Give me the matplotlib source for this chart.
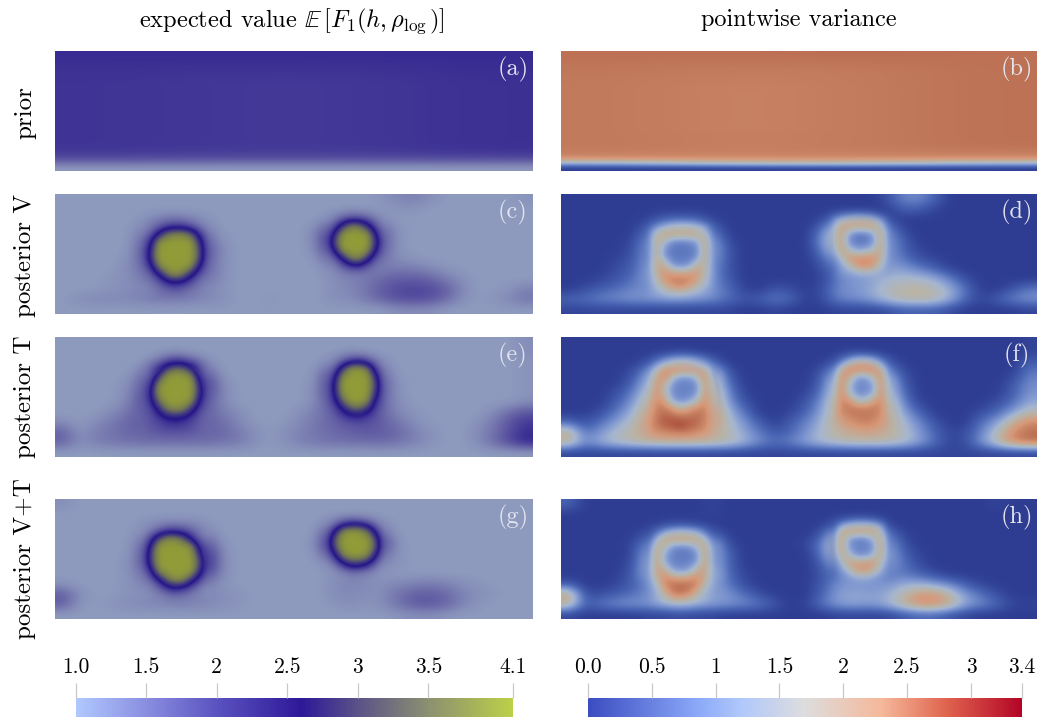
import numpy as np
import matplotlib
matplotlib.use("Agg")
import matplotlib.pyplot as plt
from matplotlib.colors import LinearSegmentedColormap, Normalize
from matplotlib.cm import ScalarMappable

plt.rcParams['font.family'] = ['cmr10', 'DejaVu Serif']
plt.rcParams['mathtext.fontset'] = 'cm'
plt.rcParams['axes.formatter.use_mathtext'] = True

# values, rows top to bottom
mean_prior = [
    [2.32, 2.32, 2.32, 2.32], [2.3, 2.3, 2.3, 2.32], [2.28, 2.27, 2.27, 2.3], [2.27, 2.25, 2.25, 2.3],
    [2.25, 2.23, 2.23, 2.28], [2.25, 2.22, 2.22, 2.28], [2.24, 2.2, 2.2, 2.27], [2.24, 2.2, 2.2, 2.27],
    [2.24, 2.2, 2.2, 2.27], [2.24, 2.2, 2.2, 2.27], [2.24, 2.2, 2.2, 2.27], [2.24, 2.2, 2.2, 2.27],
    [2.24, 2.2, 2.2, 2.27], [2.24, 2.2, 2.2, 2.27], [2.24, 2.2, 2.2, 2.27], [2.24, 2.2, 2.2, 2.27],
    [2.24, 2.2, 2.2, 2.27], [2.24, 2.2, 2.2, 2.27], [2.24, 2.2, 2.2, 2.27], [2.22, 2.18, 2.18, 2.25],
    [2.15, 2.12, 2.12, 2.18], [2.0, 1.98, 1.98, 2.02], [1.7, 1.68, 1.68, 1.7], [1.42, 1.42, 1.42, 1.42],
]
var_prior = [
    [2.85, 2.85, 2.9, 2.85], [2.85, 2.82, 2.85, 2.85], [2.82, 2.8, 2.82, 2.85], [2.8, 2.75, 2.78, 2.85],
    [2.8, 2.72, 2.75, 2.85], [2.78, 2.7, 2.75, 2.85], [2.78, 2.68, 2.75, 2.85], [2.78, 2.65, 2.75, 2.85],
    [2.78, 2.65, 2.75, 2.85], [2.78, 2.65, 2.75, 2.85], [2.78, 2.65, 2.75, 2.85], [2.78, 2.65, 2.75, 2.85],
    [2.78, 2.65, 2.75, 2.85], [2.78, 2.65, 2.75, 2.85], [2.78, 2.65, 2.75, 2.85], [2.78, 2.65, 2.75, 2.85],
    [2.78, 2.68, 2.75, 2.85], [2.78, 2.68, 2.75, 2.85], [2.78, 2.68, 2.75, 2.85], [2.75, 2.68, 2.72, 2.8],
    [2.7, 2.65, 2.68, 2.72], [2.45, 2.5, 2.5, 2.45], [1.2, 1.6, 1.6, 1.3], [0.0, 0.0, 0.0, 0.0],
]

mean_v = [
    [1.4,1.4,1.4,1.4,1.4,1.4,1.4,1.4,1.4,1.4, 1.4,1.4,1.4,1.4,1.4,1.4,1.4,1.4,1.4,1.4, 1.45,1.55,1.6,1.5,1.4,1.4,1.4,1.4,1.4,1.45],
    [1.4,1.4,1.4,1.4,1.4,1.4,1.4,1.4,1.4,1.4, 1.4,1.4,1.4,1.4,1.4,1.4,1.4,1.4,1.4,1.4, 1.4,1.45,1.45,1.4,1.4,1.4,1.4,1.4,1.4,1.4],
    [1.4,1.4,1.4,1.4,1.4,1.45,1.6,1.7,1.6,1.45, 1.4,1.4,1.4,1.4,1.4,1.4,1.4,1.6,2.1,1.9, 1.5,1.4,1.4,1.4,1.4,1.4,1.4,1.4,1.4,1.4],
    [1.4,1.4,1.4,1.4,1.4,1.55,2.1,2.6,2.2,1.6, 1.4,1.4,1.4,1.4,1.4,1.4,1.55,2.3,3.8,3.4, 1.8,1.45,1.4,1.4,1.4,1.4,1.4,1.4,1.4,1.4],
    [1.4,1.4,1.4,1.4,1.4,1.7,3.2,4.0,3.9,1.8, 1.45,1.4,1.4,1.4,1.4,1.4,1.6,2.9,4.1,4.0, 2.0,1.45,1.4,1.4,1.4,1.4,1.4,1.4,1.4,1.4],
    [1.4,1.4,1.4,1.4,1.4,1.8,3.9,4.1,4.0,2.0, 1.5,1.4,1.4,1.4,1.4,1.4,1.55,2.6,4.1,3.9, 1.9,1.45,1.4,1.4,1.4,1.4,1.4,1.4,1.4,1.4],
    [1.4,1.4,1.4,1.4,1.45,1.8,3.9,4.1,4.0,1.9, 1.5,1.4,1.4,1.4,1.4,1.4,1.45,2.0,3.2,2.9, 1.7,1.5,1.45,1.4,1.4,1.4,1.4,1.4,1.4,1.4],
    [1.4,1.4,1.4,1.4,1.5,1.7,3.2,4.0,3.6,1.8, 1.5,1.4,1.4,1.4,1.4,1.4,1.4,1.6,1.9,1.85, 1.65,1.65,1.65,1.55,1.45,1.4,1.4,1.4,1.4,1.4],
    [1.4,1.4,1.4,1.45,1.5,1.6,2.3,2.9,2.4,1.7, 1.5,1.4,1.4,1.4,1.4,1.4,1.4,1.5,1.55,1.65, 1.8,1.9,1.9,1.85,1.65,1.5,1.4,1.4,1.4,1.4],
    [1.4,1.4,1.4,1.45,1.5,1.55,1.8,2.0,1.8,1.55, 1.45,1.4,1.4,1.4,1.4,1.4,1.4,1.5,1.55,1.7, 1.9,2.05,2.1,2.05,1.9,1.55,1.4,1.4,1.45,1.6],
    [1.4,1.5,1.55,1.55,1.55,1.6,1.65,1.65,1.6,1.55, 1.5,1.4,1.4,1.45,1.4,1.4,1.4,1.5,1.5,1.65, 1.85,2.0,2.05,2.0,1.8,1.5,1.4,1.45,1.55,1.7],
    [1.4,1.4,1.4,1.4,1.4,1.4,1.4,1.4,1.4,1.4, 1.4,1.4,1.4,1.4,1.4,1.4,1.4,1.4,1.4,1.4, 1.4,1.5,1.5,1.5,1.4,1.4,1.4,1.4,1.4,1.4],
]
var_v = [
    [0,0,0,0,0,0,0,0,0,0, 0,0,0,0,0,0,0,0,0,0, .2,.8,.9,.5,0,0,0,0,0,0],
    [0,0,0,0,0,0,0,0,0,0, 0,0,0,0,0,0,0,0,0,0, 0,.4,.4,.1,0,0,0,0,0,0],
    [0,0,0,0,0,.1,.4,.5,.45,.1, 0,0,0,0,0,0,.1,.9,1.2,1.0, .2,0,0,0,0,0,0,0,0,0],
    [0,0,0,0,0,.5,1.6,2.2,1.9,.7, 0,0,0,0,0,0,.6,2.2,2.3,2.2, 1.1,.1,0,0,0,0,0,0,0,0],
    [0,0,0,0,.1,.9,2.1,1.2,1.4,1.3, .1,0,0,0,0,0,1.0,2.3,.8,1.2, 1.3,.4,0,0,0,0,0,0,0,0],
    [0,0,0,0,.2,1.1,1.5,.7,.8,1.5, .3,0,0,0,0,0,.8,2.2,1.0,1.5, 1.3,.5,.1,0,0,0,0,0,0,0],
    [0,0,0,.1,.3,1.1,1.6,.8,.9,1.3, .3,0,0,0,0,0,.4,1.6,2.3,2.4, 1.1,.7,.3,.1,0,0,0,0,0,0],
    [0,0,0,.2,.4,1.2,2.3,1.6,2.0,1.1, .3,0,0,0,0,0,.2,1.0,1.5,1.4, 1.2,1.1,.8,.5,.1,0,0,0,0,0],
    [0,0,.1,.3,.6,1.1,2.4,2.7,2.3,1.0, .4,0,0,0,0,0,.1,.8,1.0,1.1, 1.4,1.5,1.5,1.3,.8,.2,0,0,0,0],
    [0,.2,.4,.6,.8,1.0,1.6,2.0,1.5,1.0, .6,.1,0,.3,.2,0,.2,.9,1.0,1.2, 1.6,1.8,1.9,1.7,1.3,.6,0,0,.3,.7],
    [.5,.6,.8,.9,1.0,1.0,1.1,1.1,1.0,.9, .6,.3,.4,.7,.5,0,.2,.8,.9,1.1, 1.5,1.8,1.9,1.8,1.3,.5,.1,.4,.8,1.0],
    [.1,.1,.1,.1,.1,.1,.1,.1,.1,.1, .1,0,0,.1,0,0,0,.1,.1,.1, .2,.4,.4,.4,.2,0,0,0,0,.1],
]

mean_t = [
    [1.4,1.4,1.4,1.4,1.4,1.4,1.4,1.4,1.4,1.4, 1.4,1.4,1.4,1.4,1.4,1.4,1.4,1.4,1.4,1.4, 1.4,1.4,1.4,1.4,1.4,1.4,1.4,1.4,1.4,1.5],
    [1.4,1.4,1.4,1.4,1.4,1.4,1.4,1.45,1.4,1.4, 1.4,1.4,1.4,1.4,1.4,1.4,1.4,1.4,1.45,1.4, 1.4,1.4,1.4,1.4,1.4,1.4,1.4,1.4,1.4,1.5],
    [1.4,1.4,1.4,1.4,1.4,1.4,1.7,2.4,2.0,1.5, 1.4,1.4,1.4,1.4,1.4,1.4,1.4,1.55,2.3,2.2, 1.5,1.4,1.4,1.4,1.4,1.4,1.4,1.4,1.4,1.45],
    [1.4,1.4,1.4,1.4,1.4,1.6,3.0,4.0,3.8,1.8, 1.4,1.4,1.4,1.4,1.4,1.4,1.45,2.3,4.0,3.7, 1.7,1.4,1.4,1.4,1.4,1.4,1.4,1.4,1.4,1.45],
    [1.4,1.4,1.4,1.4,1.45,1.8,3.9,4.1,4.1,2.2, 1.5,1.4,1.4,1.4,1.4,1.4,1.5,2.6,4.1,4.0, 1.9,1.45,1.4,1.4,1.4,1.4,1.4,1.4,1.4,1.45],
    [1.4,1.4,1.4,1.4,1.5,1.9,3.9,4.1,4.0,2.1, 1.55,1.4,1.4,1.4,1.4,1.4,1.55,2.5,4.1,4.0, 1.9,1.45,1.4,1.4,1.4,1.4,1.4,1.4,1.4,1.45],
    [1.4,1.4,1.4,1.4,1.55,2.0,3.2,4.0,3.7,1.95, 1.55,1.4,1.4,1.4,1.4,1.4,1.55,2.2,3.8,3.4, 1.8,1.5,1.4,1.4,1.4,1.4,1.4,1.4,1.4,1.5],
    [1.4,1.4,1.4,1.5,1.7,1.9,2.5,2.9,2.5,1.85, 1.65,1.5,1.4,1.4,1.4,1.5,1.65,1.9,2.6,2.4, 1.8,1.55,1.45,1.4,1.4,1.4,1.4,1.5,1.75,1.95],
    [1.5,1.4,1.5,1.65,1.8,1.9,2.1,2.2,2.05,1.85, 1.75,1.55,1.42,1.4,1.42,1.55,1.7,1.8,2.0,2.0, 1.85,1.7,1.5,1.42,1.4,1.4,1.45,1.65,1.95,2.2],
    [1.85,1.45,1.6,1.7,1.8,1.85,1.9,1.95,1.9,1.85, 1.8,1.65,1.5,1.4,1.5,1.6,1.7,1.8,1.85,1.95, 1.9,1.8,1.6,1.48,1.4,1.4,1.5,1.7,2.0,2.3],
    [1.85,1.5,1.6,1.68,1.72,1.75,1.75,1.75,1.75,1.75, 1.72,1.65,1.5,1.4,1.5,1.6,1.68,1.72,1.75,1.75, 1.78,1.72,1.6,1.48,1.4,1.4,1.5,1.75,2.05,2.35],
    [1.4,1.4,1.4,1.4,1.4,1.4,1.4,1.4,1.4,1.4, 1.4,1.4,1.4,1.4,1.4,1.4,1.4,1.4,1.4,1.4, 1.4,1.4,1.4,1.4,1.4,1.4,1.4,1.4,1.4,1.4],
]
var_t = [
    [0,0,0,0,0,0,0,0,0,0, 0,0,0,0,0,0,0,0,0,0, 0,0,0,0,0,0,0,0,0,.1],
    [0,0,0,0,0,0,0,.1,0,0, 0,0,0,0,0,0,0,0,.1,0, 0,0,0,0,0,0,0,0,0,.1],
    [0,0,0,0,0,.2,1.2,1.9,1.6,.5, 0,0,0,0,0,0,0,.5,1.8,1.8, .5,0,0,0,0,0,0,0,0,.4],
    [0,0,0,0,.2,1.0,2.6,1.8,1.6,2.0, .3,0,0,0,0,0,.3,1.6,1.5,1.3, 1.3,.2,0,0,0,0,0,0,0,.7],
    [0,0,0,0,.4,1.4,2.3,.9,.85,2.3, .6,0,0,0,0,0,.5,2.2,.9,.9, 2.0,.4,0,0,0,0,0,0,.3,.9],
    [0,0,0,.2,.7,1.7,2.3,.85,.95,2.4, .9,.1,0,0,0,.1,.7,2.3,.9,1.0, 2.0,.6,0,0,0,0,0,0,.4,1.0],
    [0,0,0,.4,1.0,2.0,2.6,1.6,1.7,2.5, 1.1,.3,0,0,0,.3,1.0,2.4,1.8,1.7, 2.3,.9,.1,0,0,0,0,.2,.6,1.2],
    [0,0,.2,.7,1.3,2.3,2.8,2.8,2.8,2.7, 1.4,.7,0,0,.1,.5,1.2,2.2,2.7,2.7, 2.3,1.2,.5,0,0,0,.2,.5,1.1,1.7],
    [.5,.2,.6,1.1,1.6,2.4,2.9,3.1,2.9,2.6, 1.6,1.0,.4,0,.4,.8,1.4,2.1,2.6,2.7, 2.2,1.5,.9,.3,0,0,.6,1.1,2.0,2.6],
    [2.0,.6,1.0,1.5,1.8,2.2,2.4,2.5,2.4,2.1, 1.7,1.2,.7,.3,.5,1.0,1.5,1.9,2.1,2.2, 2.0,1.6,1.1,.5,.1,.2,.8,1.6,2.6,2.9],
    [2.0,.9,1.3,1.6,1.8,1.9,2.0,2.0,2.0,1.9, 1.8,1.4,.9,.6,.8,1.2,1.5,1.7,1.8,1.8, 1.8,1.6,1.2,.6,.1,.2,1.0,1.8,2.6,2.9],
    [.1,.1,.1,.1,.1,.1,.1,.1,.1,.1, .1,.1,.1,.1,.1,.1,.1,.1,.1,.1, .1,.1,.1,.1,.1,.1,.1,.1,.1,.1],
]

mean_vt = [
    [1.5,1.4,1.4,1.4,1.4,1.4,1.4,1.4,1.4,1.4, 1.4,1.4,1.4,1.4,1.4,1.4,1.4,1.4,1.4,1.4, 1.4,1.4,1.4,1.4,1.4,1.4,1.4,1.4,1.4,1.4],
    [1.4,1.4,1.4,1.4,1.4,1.4,1.4,1.4,1.4,1.4, 1.4,1.4,1.4,1.4,1.4,1.4,1.4,1.4,1.4,1.4, 1.4,1.4,1.4,1.4,1.4,1.4,1.4,1.4,1.4,1.4],
    [1.4,1.4,1.4,1.4,1.4,1.45,1.55,1.6,1.55,1.45, 1.4,1.4,1.4,1.4,1.4,1.4,1.4,1.7,2.3,2.0, 1.5,1.4,1.4,1.4,1.4,1.4,1.4,1.4,1.4,1.4],
    [1.4,1.4,1.4,1.4,1.4,1.5,2.1,2.7,2.3,1.6, 1.4,1.4,1.4,1.4,1.4,1.4,1.45,2.5,4.0,3.8, 1.8,1.4,1.4,1.4,1.4,1.4,1.4,1.4,1.4,1.4],
    [1.4,1.4,1.4,1.4,1.4,1.7,3.4,4.1,3.9,2.0, 1.45,1.4,1.4,1.4,1.4,1.4,1.5,3.0,4.1,4.0, 2.2,1.45,1.4,1.4,1.4,1.4,1.4,1.4,1.4,1.4],
    [1.4,1.4,1.4,1.4,1.4,1.8,3.9,4.1,4.1,2.4, 1.5,1.4,1.4,1.4,1.4,1.4,1.45,2.3,3.8,3.4, 1.8,1.45,1.4,1.4,1.4,1.4,1.4,1.4,1.4,1.4],
    [1.4,1.4,1.4,1.4,1.45,1.8,3.9,4.1,4.1,2.5, 1.5,1.4,1.4,1.4,1.4,1.4,1.4,1.6,2.2,2.0, 1.55,1.45,1.4,1.4,1.4,1.4,1.4,1.4,1.4,1.4],
    [1.4,1.4,1.4,1.4,1.45,1.65,3.0,4.0,3.8,2.1, 1.5,1.4,1.4,1.4,1.4,1.4,1.4,1.45,1.6,1.55, 1.45,1.4,1.4,1.4,1.4,1.4,1.4,1.4,1.4,1.4],
    [1.45,1.4,1.4,1.4,1.45,1.55,2.0,2.7,2.2,1.6, 1.45,1.4,1.4,1.4,1.4,1.4,1.4,1.5,1.55,1.5, 1.5,1.55,1.6,1.65,1.6,1.5,1.45,1.4,1.4,1.4],
    [1.9,1.5,1.4,1.4,1.45,1.5,1.6,1.75,1.65,1.55, 1.5,1.45,1.4,1.4,1.4,1.4,1.4,1.5,1.55,1.5, 1.5,1.7,1.85,1.9,1.8,1.6,1.5,1.45,1.4,1.4],
    [1.9,1.45,1.4,1.45,1.5,1.55,1.55,1.6,1.6,1.55, 1.5,1.45,1.4,1.4,1.4,1.4,1.4,1.45,1.5,1.45, 1.5,1.7,1.9,1.95,1.85,1.6,1.45,1.4,1.4,1.4],
    [1.4,1.4,1.4,1.4,1.4,1.4,1.4,1.4,1.4,1.4, 1.4,1.4,1.4,1.4,1.4,1.4,1.4,1.4,1.4,1.4, 1.4,1.45,1.5,1.5,1.45,1.4,1.4,1.4,1.4,1.4],
]
var_vt = [
    [.5,0,0,0,0,0,0,0,0,.1, 0,0,0,0,0,0,0,0,0,0, 0,0,0,0,0,0,0,.1,0,0],
    [0,0,0,0,0,0,0,0,0,.1, 0,0,0,0,0,0,0,0,0,0, 0,0,0,0,0,0,0,0,0,0],
    [0,0,0,0,0,0,.1,.2,.1,0, 0,0,0,0,0,0,0,.5,1.1,1.0, .1,0,0,0,0,0,0,0,0,0],
    [0,0,0,0,0,.3,1.3,1.9,1.6,.6, 0,0,0,0,0,0,.3,2.1,1.9,2.2, .9,.1,0,0,0,0,0,0,0,0],
    [0,0,0,0,.1,.9,2.0,1.1,1.3,1.7, .2,0,0,0,0,.1,.8,2.4,.8,1.0, 1.4,.3,0,0,0,0,0,0,0,0],
    [0,0,0,0,.1,1.4,1.4,.7,.8,1.5, .5,0,0,0,0,0,.7,2.3,1.0,1.5, 1.5,.5,.1,0,0,0,0,0,0,0],
    [0,0,0,0,.2,1.5,1.6,.8,.9,1.6, .5,0,0,0,0,0,.4,1.7,2.4,2.4, 1.2,.7,.2,0,0,0,0,0,0,0],
    [0,0,0,0,.4,1.3,2.3,1.5,1.8,1.7, .6,.1,0,0,0,0,.3,.9,1.3,1.2, .8,.7,.5,.2,0,0,0,0,0,0],
    [.3,0,0,.1,.4,.9,2.6,2.9,2.6,1.3, .7,.2,0,0,0,0,.4,1.0,1.0,1.0, 1.0,1.2,1.3,1.1,.8,.4,.1,0,0,0],
    [2.2,.2,.2,.4,.6,.9,2.0,2.8,2.0,1.2, 1.0,.6,.2,0,0,0,.5,1.1,1.2,1.1, 1.2,1.7,2.3,2.4,1.8,1.0,.6,.2,0,0],
    [2.0,.4,.7,.9,1.0,1.0,1.3,1.5,1.3,1.1, 1.0,.9,.7,.3,0,.1,.7,1.1,1.2,1.1, 1.3,1.9,2.5,2.6,2.1,1.2,.9,.5,.1,.1],
    [.1,0,0,0,0,.1,.1,.2,.1,.1, 0,0,0,0,0,0,0,.1,.1,.1, .1,.3,.5,.5,.3,.1,0,0,0,0],
]

# finer readings around the two inclusions of each posterior panel
mean_v_blob1 = [
    [1.4,1.4,1.45,1.5,1.55,1.55,1.55,1.5,1.45,1.4,1.4],
    [1.4,1.45,1.6,1.8,2.1,2.2,2.2,2.0,1.7,1.5,1.4],
    [1.45,1.55,1.9,2.6,3.5,3.8,3.8,3.3,2.3,1.7,1.45],
    [1.45,1.7,2.4,3.9,4.1,4.1,4.1,4.1,2.9,1.8,1.45],
    [1.5,1.75,2.7,4.1,4.1,4.1,4.1,4.1,3.2,1.85,1.5],
    [1.5,1.75,2.8,4.1,4.1,4.1,4.1,4.1,3.2,1.85,1.5],
    [1.5,1.7,2.3,3.7,4.1,4.1,4.1,3.9,2.6,1.75,1.5],
    [1.5,1.6,1.9,2.5,3.5,4.0,3.6,2.7,2.0,1.65,1.5],
    [1.5,1.55,1.7,1.9,2.3,2.5,2.35,2.0,1.75,1.55,1.5],
    [1.45,1.5,1.55,1.65,1.8,1.9,1.8,1.65,1.6,1.5,1.45],
    [1.45,1.5,1.5,1.55,1.55,1.6,1.6,1.55,1.5,1.5,1.45],
]
mean_v_blob2 = [
    [1.4,1.4,1.4,1.45,1.5,1.5,1.45,1.4,1.4,1.4],
    [1.4,1.45,1.55,1.8,2.0,2.0,1.85,1.6,1.45,1.4],
    [1.45,1.6,2.0,2.9,3.7,3.6,2.8,2.0,1.55,1.4],
    [1.5,1.75,2.7,4.0,4.1,4.1,4.0,2.6,1.7,1.45],
    [1.55,1.8,3.2,4.1,4.1,4.1,4.1,3.0,1.8,1.45],
    [1.5,1.7,2.6,4.0,4.1,4.1,4.0,2.6,1.75,1.5],
    [1.45,1.55,1.9,2.6,3.7,3.8,2.9,2.0,1.65,1.5],
    [1.4,1.5,1.6,1.9,2.2,2.3,1.95,1.7,1.6,1.55],
    [1.4,1.45,1.5,1.55,1.65,1.65,1.65,1.65,1.65,1.7],
    [1.4,1.45,1.45,1.5,1.55,1.55,1.6,1.7,1.8,1.9],
]
mean_t_blob1 = [
    [1.4,1.4,1.45,1.55,1.8,2.05,1.95,1.65,1.45,1.4,1.4],
    [1.45,1.5,1.6,2.0,3.0,3.7,3.5,2.6,1.75,1.5,1.4],
    [1.45,1.55,1.9,3.0,4.1,4.1,4.1,4.0,2.3,1.65,1.45],
    [1.5,1.6,2.3,3.9,4.1,4.1,4.1,4.1,2.8,1.75,1.5],
    [1.55,1.7,2.5,4.0,4.1,4.1,4.1,4.1,2.9,1.8,1.5],
    [1.6,1.75,2.3,3.5,4.1,4.1,4.1,3.9,2.5,1.8,1.55],
    [1.65,1.8,2.05,2.7,3.6,3.9,3.7,2.9,2.1,1.8,1.6],
    [1.7,1.85,2.0,2.2,2.5,2.6,2.5,2.2,1.95,1.8,1.65],
    [1.75,1.85,1.95,2.05,2.15,2.2,2.15,2.05,1.9,1.8,1.7],
    [1.75,1.8,1.9,1.95,2.0,2.0,2.0,1.95,1.85,1.8,1.7],
    [1.65,1.7,1.75,1.75,1.8,1.8,1.8,1.75,1.75,1.7,1.65],
]
mean_t_blob2 = [
    [1.4,1.4,1.4,1.4,1.45,1.5,1.45,1.4,1.4,1.4],
    [1.4,1.45,1.5,1.8,2.3,2.5,2.1,1.7,1.45,1.4],
    [1.45,1.55,1.9,3.0,4.0,4.1,3.7,2.2,1.6,1.4],
    [1.5,1.65,2.4,3.9,4.1,4.1,4.1,2.9,1.7,1.45],
    [1.5,1.7,2.7,4.1,4.1,4.1,4.1,3.2,1.8,1.5],
    [1.55,1.75,2.6,4.0,4.1,4.1,4.1,2.9,1.85,1.55],
    [1.6,1.8,2.3,3.4,4.1,4.1,3.9,2.4,1.85,1.6],
    [1.6,1.8,2.0,2.5,3.2,3.4,2.8,2.1,1.85,1.65],
    [1.65,1.8,1.9,2.1,2.3,2.4,2.2,2.0,1.85,1.7],
    [1.7,1.8,1.85,1.95,2.05,2.1,2.05,2.0,1.9,1.75],
]
mean_vt_blob1 = [
    [1.4,1.4,1.4,1.45,1.5,1.5,1.45,1.4,1.4,1.4,1.4],
    [1.4,1.45,1.6,1.95,2.3,2.3,2.05,1.7,1.5,1.4,1.4],
    [1.45,1.55,2.2,3.2,3.9,3.9,3.4,2.5,1.8,1.5,1.4],
    [1.45,1.7,2.7,4.1,4.1,4.1,4.1,3.9,2.4,1.65,1.45],
    [1.5,1.75,3.0,4.1,4.1,4.1,4.1,4.1,2.9,1.75,1.45],
    [1.5,1.75,2.9,4.1,4.1,4.1,4.1,4.1,3.3,1.85,1.5],
    [1.45,1.65,2.3,3.8,4.1,4.1,4.1,4.1,2.9,1.8,1.5],
    [1.45,1.55,1.85,2.5,3.5,4.0,3.9,3.0,2.2,1.65,1.45],
    [1.45,1.5,1.6,1.85,2.3,2.6,2.4,2.0,1.7,1.5,1.45],
    [1.4,1.45,1.5,1.6,1.75,1.85,1.8,1.65,1.55,1.45,1.4],
    [1.4,1.45,1.5,1.5,1.55,1.6,1.6,1.55,1.5,1.5,1.45],
]
mean_vt_blob2 = [
    [1.4,1.4,1.4,1.4,1.4,1.4,1.4,1.4,1.4,1.4],
    [1.4,1.45,1.65,2.1,2.4,2.4,2.1,1.65,1.45,1.4],
    [1.45,1.7,2.5,3.8,4.1,4.0,3.5,2.4,1.6,1.4],
    [1.45,1.85,3.3,4.1,4.1,4.1,4.1,3.2,1.75,1.45],
    [1.45,1.85,3.2,4.1,4.1,4.1,4.1,3.4,1.8,1.45],
    [1.4,1.7,2.4,3.7,4.1,4.1,3.9,2.7,1.7,1.45],
    [1.4,1.5,1.8,2.4,3.0,3.0,2.6,1.95,1.55,1.4],
    [1.4,1.45,1.5,1.65,1.8,1.8,1.7,1.55,1.45,1.4],
    [1.4,1.45,1.5,1.5,1.55,1.55,1.5,1.5,1.45,1.4],
    [1.4,1.45,1.5,1.55,1.6,1.6,1.55,1.5,1.45,1.45],
]
var_v_blob1 = [
    [0,.1,.2,.3,.3,.3,.3,.3,.2,.1,0],
    [.1,.5,1.0,1.3,1.6,1.6,1.6,1.5,1.2,.4,.1],
    [.1,.8,1.9,2.2,2.2,2.2,2.2,2.1,1.7,.7,.1],
    [.2,.9,2.1,1.4,.8,.7,.8,1.1,2.2,1.0,.2],
    [.2,1.0,2.0,.9,.7,.7,.7,.8,2.1,1.1,.2],
    [.2,1.0,2.1,1.1,.7,.7,.7,1.0,2.1,1.1,.2],
    [.3,1.0,2.2,2.0,1.1,.9,1.1,2.0,1.9,1.1,.3],
    [.4,1.0,1.9,2.5,2.4,2.3,2.4,2.4,1.7,1.1,.4],
    [.5,1.0,1.6,2.3,2.7,2.8,2.6,2.1,1.5,1.1,.5],
    [.6,1.0,1.3,1.6,2.1,2.2,1.9,1.5,1.3,1.0,.6],
    [.8,1.0,1.1,1.2,1.3,1.3,1.3,1.2,1.1,1.0,.7],
]
var_v_blob2 = [
    [0,.1,.4,.6,.7,.7,.5,.2,0,0],
    [.1,.9,1.3,1.7,1.9,1.9,1.6,1.1,.4,0],
    [.3,1.2,2.2,2.2,2.2,2.2,2.3,1.6,.7,.1],
    [.6,1.3,2.3,1.1,.7,.7,1.1,2.2,.9,.2],
    [.5,1.3,2.3,.9,.7,.7,.9,2.2,1.0,.3],
    [.3,1.0,2.3,1.6,1.1,1.2,1.6,2.2,1.0,.4],
    [.2,.7,1.5,2.4,2.5,2.5,2.5,1.9,1.0,.6],
    [.1,.5,1.1,1.5,2.3,2.6,2.3,1.5,1.0,.8],
    [.1,.5,1.0,1.1,1.2,1.4,1.3,1.2,1.1,1.1],
    [.1,.5,.9,1.0,1.0,1.1,1.2,1.3,1.4,1.5],
]
var_t_blob1 = [
    [.1,.2,.6,1.2,1.7,2.0,1.9,1.5,.9,.3,.1],
    [.4,.9,1.6,2.5,2.7,2.7,2.7,2.6,2.1,.7,.2],
    [.7,1.2,2.2,2.6,1.5,1.0,1.0,1.5,2.6,1.2,.4],
    [.9,1.5,2.4,1.8,.9,.8,.8,.9,2.3,1.6,.5],
    [1.1,1.7,2.5,1.7,.9,.8,.8,1.0,2.4,1.7,.7],
    [1.2,1.9,2.6,2.2,1.2,.9,1.1,1.6,2.5,1.8,.9],
    [1.4,2.1,2.7,2.8,2.4,2.0,2.3,2.7,2.7,1.9,1.1],
    [1.6,2.3,2.8,3.0,3.0,2.9,2.9,2.9,2.7,2.0,1.3],
    [1.8,2.4,2.8,3.0,3.1,3.2,3.0,2.9,2.6,2.1,1.5],
    [1.9,2.3,2.6,2.7,2.8,2.9,2.8,2.6,2.4,2.1,1.6],
    [1.8,2.0,2.1,2.2,2.2,2.2,2.2,2.1,2.0,1.9,1.6],
]
var_t_blob2 = [
    [0,0,0,.1,.4,.5,.3,0,0,0],
    [0,.1,.7,1.5,2.0,2.1,1.8,1.0,.3,0],
    [.2,.7,1.9,2.6,2.7,2.7,2.6,2.0,.9,.2],
    [.4,1.0,2.4,2.2,1.1,1.0,1.7,2.5,1.2,.4],
    [.6,1.2,2.6,1.4,.9,.9,1.0,2.5,1.4,.5],
    [.7,1.4,2.6,1.6,.9,.9,1.2,2.5,1.5,.7],
    [.9,1.6,2.6,2.5,1.7,1.5,2.2,2.6,1.7,.9],
    [1.1,1.8,2.6,2.8,2.8,2.8,2.8,2.6,1.8,1.1],
    [1.3,1.9,2.5,2.7,2.8,2.8,2.8,2.5,1.9,1.2],
    [1.5,1.9,2.3,2.5,2.6,2.7,2.6,2.3,1.9,1.4],
]
var_vt_blob1 = [
    [0,0,0,.1,.1,.1,.1,.1,0,0,0],
    [0,.1,.5,1.1,1.5,1.6,1.5,1.2,.6,.1,0],
    [.1,.4,1.4,2.2,2.3,2.3,2.3,2.2,1.6,.6,.1],
    [.1,.7,2.1,1.7,.9,.8,.9,1.4,2.3,1.0,.2],
    [.2,.9,2.3,1.1,.8,.7,.7,.9,2.2,1.2,.2],
    [.3,1.0,2.3,1.2,.8,.8,.8,1.1,2.3,1.3,.3],
    [.4,1.0,2.3,2.1,1.2,1.0,1.2,2.0,2.3,1.2,.5],
    [.4,1.0,1.9,2.6,2.5,2.4,2.5,2.6,2.0,1.2,.6],
    [.5,.9,1.4,2.5,2.9,3.0,2.9,2.5,1.6,1.1,.7],
    [.6,.9,1.2,1.8,2.6,2.8,2.5,1.7,1.2,1.1,.8],
    [.8,.9,1.0,1.2,1.6,1.7,1.5,1.2,1.1,1.0,.9],
]
var_vt_blob2 = [
    [0,0,0,0,0,0,.1,.1,0,0],
    [0,.1,.8,1.3,1.5,1.5,1.4,1.0,.2,0],
    [.1,.4,2.0,2.3,2.3,2.3,2.3,1.6,.5,.1],
    [.1,.7,2.3,1.1,.8,.8,1.3,2.2,.7,.2],
    [.1,.8,2.3,1.0,.8,.8,.9,2.3,.8,.3],
    [.1,.6,2.1,1.6,.9,.9,1.3,2.2,.9,.4],
    [.1,.5,1.3,2.3,2.3,2.4,2.4,1.6,.8,.5],
    [.1,.4,1.0,1.4,2.2,2.3,1.9,1.3,.8,.6],
    [.2,.5,.8,1.0,1.2,1.3,1.1,.9,.8,.7],
    [.2,.7,.9,1.0,1.1,1.1,1.0,1.0,1.0,1.0],
]

row_labels = ["prior", "posterior V", "posterior T", "posterior V+T"]
panel_letters = ["(a)", "(b)", "(c)", "(d)", "(e)", "(f)", "(g)", "(h)"]
mean_ticks = [1.0, 1.5, 2, 2.5, 3, 3.5, 4.1]
mean_ticklabels = ["1.0", "1.5", "2", "2.5", "3", "3.5", "4.1"]
var_ticks = [0.0, 0.5, 1, 1.5, 2, 2.5, 3, 3.4]
var_ticklabels = ["0.0", "0.5", "1", "1.5", "2", "2.5", "3", "3.4"]

W, H = 1037, 717
def px_axes(fig, x0, y0, x1, y1):
    return fig.add_axes([x0 / W, 1 - y1 / H, (x1 - x0) / W, (y1 - y0) / H])

def make_cmap(vmin, vmax, stops):
    return LinearSegmentedColormap.from_list(
        "c", [((v - vmin) / (vmax - vmin), c) for v, c in stops], N=512)

def draw_patch(ax, table, x_first, y_first, cmap, vmin, vmax, step=8):
    # soft edge so the fine table blends into the coarse one
    arr = np.array(table, dtype=float)
    alpha = np.ones(arr.shape)
    alpha[1, 1:-1] = alpha[-2, 1:-1] = 0.6
    alpha[1:-1, 1] = alpha[1:-1, -2] = 0.6
    alpha[0, :] = alpha[-1, :] = 0
    alpha[:, 0] = alpha[:, -1] = 0
    x_last = x_first + step * (arr.shape[1] - 1)
    y_last = y_first + step * (arr.shape[0] - 1)
    ax.imshow(arr, cmap=cmap, vmin=vmin, vmax=vmax, alpha=alpha, aspect="auto", interpolation="bicubic",
              extent=(x_first - step / 2, x_last + step / 2, y_last + step / 2, y_first - step / 2))

# panels are rendered darker than the colour bars
mean_panel = make_cmap(1.0, 4.1, [(1.0, "#a8b6d6"), (1.4, "#8e9abe"), (1.8, "#6a68a8"), (2.5, "#26158a"),
                                  (3.0, "#45407e"), (3.5, "#6f7258"), (4.1, "#919c38")])
var_panel = make_cmap(0.0, 3.4, [(0.0, "#2e3d92"), (0.5, "#4a66b4"), (1.0, "#7c95d0"), (1.4, "#a6b6d0"),
                                 (1.8, "#b8b4a8"), (2.4, "#d89878"), (2.8, "#c0785a"), (3.4, "#a03028")])
mean_bar = make_cmap(1.0, 4.1, [(1.0, "#b0c8ff"), (1.5, "#8a8ee0"), (2.0, "#5a52c0"), (2.6, "#2e1898"),
                                (3.0, "#5a5288"), (3.5, "#8c9070"), (4.1, "#bcd048")])
var_bar = make_cmap(0.0, 3.4, [(0.0, "#3b4cc0"), (0.85, "#8aa8f8"), (1.2, "#b0c8fb"), (1.7, "#dddddd"),
                               (2.3, "#f5b89a"), (2.8, "#e0654f"), (3.4, "#b40426")])

fig = plt.figure(figsize=(W / 100, H / 100), dpi=100)

row_tops = [51, 194, 337, 499]
left_data = [mean_prior, mean_v, mean_t, mean_vt]
right_data = [var_prior, var_v, var_t, var_vt]
left_blobs = [None, (mean_v_blob1, mean_v_blob2), (mean_t_blob1, mean_t_blob2), (mean_vt_blob1, mean_vt_blob2)]
right_blobs = [None, (var_v_blob1, var_v_blob2), (var_t_blob1, var_t_blob2), (var_vt_blob1, var_vt_blob2)]
for i, top in enumerate(row_tops):
    for j, (x0, x1, tablas, blobs, cmap, vmax, vmin) in enumerate([
            (55, 533, left_data, left_blobs, mean_panel, 4.1, 1.0),
            (561, 1037, right_data, right_blobs, var_panel, 3.4, 0.0)]):
        ax = px_axes(fig, x0, top, x1, top + 120)
        ax.imshow(np.array(tablas[i], dtype=float), cmap=cmap, vmin=vmin, vmax=vmax,
                  aspect="auto", interpolation="bicubic", extent=(0, x1 - x0, 120, 0))
        if blobs[i] is not None:
            draw_patch(ax, blobs[i][0], 80, 24, cmap, vmin, vmax)
            draw_patch(ax, blobs[i][1], 264, 16, cmap, vmin, vmax)
        ax.set_xlim(0, x1 - x0)
        ax.set_ylim(120, 0)
        ax.axis("off")
        ax.text(0.958, 0.85, panel_letters[2 * i + j], color="#e4e4ee", fontsize=17.5,
                ha="center", va="center", transform=ax.transAxes)

fig.text(292 / W, 1 - 21 / H, r"expected value $\mathbb{E}\,[F_1(h,\rho_{\log})]$",
         fontsize=17.6, ha="center", va="center")
fig.text(799 / W, 1 - 20 / H, "pointwise variance", fontsize=17.5, ha="center", va="center")

for y, lab in zip([113, 255, 397, 559], row_labels):
    fig.text(25 / W, 1 - y / H, lab, fontsize=18, rotation=90, ha="center", va="center")

for x0, x1, cmap, vmin, vmax, ticks, labels in [
        (75.7, 513, mean_bar, 1.0, 4.1, mean_ticks, mean_ticklabels),
        (588, 1022, var_bar, 0.0, 3.4, var_ticks, var_ticklabels)]:
    cax = px_axes(fig, x0, 698, x1, 717)
    cb = fig.colorbar(ScalarMappable(Normalize(vmin, vmax), cmap), cax=cax, orientation="horizontal")
    cb.outline.set_visible(False)
    cb.set_ticks(ticks, labels=labels)
    cb.ax.xaxis.set_ticks_position("top")
    cb.ax.tick_params(axis="x", length=10.8, width=0.9, color="#c8c8c8", labelsize=15.5, pad=4)

fig.savefig("out.png", dpi=100)
